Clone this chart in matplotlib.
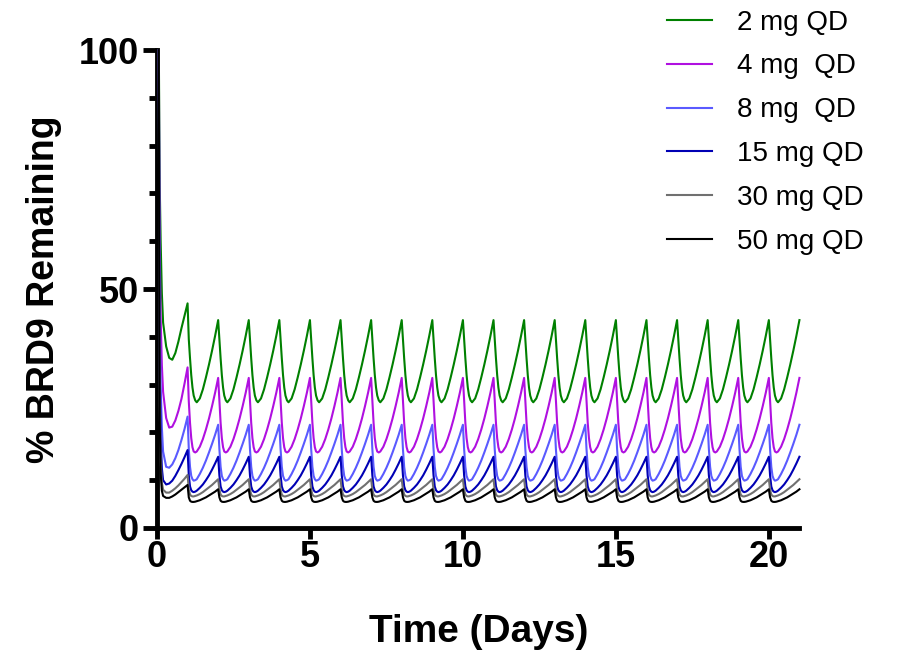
import matplotlib
matplotlib.use('Agg')
import numpy as np
from matplotlib import pyplot as plt
from matplotlib.ticker import MultipleLocator

plt.rcParams['font.family'] = ['Liberation Sans', 'DejaVu Sans']

# doses and legend labels
labels = ['2 mg QD', '4 mg  QD', '8 mg  QD', '15 mg QD', '30 mg QD', '50 mg QD']
colors = ['#008000', '#B010E0', '#5A5AFF', '#0000B4', '#707070', '#000000']

# first day after the first dose (time in days)
day0_t = [0.06, 0.075, 0.09, 0.12, 0.16, 0.2, 0.3, 0.4, 0.5, 0.6, 0.7, 0.8, 0.9, 1.0]
day0_2mg = [100, 85, 72, 60, 49, 43, 38, 35.6, 35.2, 36.6, 39, 41.8, 44.4, 47]
day0_4mg = [100, 75, 58, 44, 34, 28.5, 23, 21, 21.2, 22.5, 24.5, 27, 30.2, 33.6]
day0_8mg = [100, 65, 45, 30, 21, 16, 12.8, 12.6, 13.3, 14.6, 16.3, 18.4, 20.7, 23.3]
day0_15mg = [100, 55, 33, 19, 12.5, 10, 9.1, 9.3, 9.9, 10.9, 12.1, 13.4, 14.8, 16.3]
day0_30mg = [100, 48, 26, 14, 9.5, 8, 7.4, 7.4, 7.8, 8.3, 8.9, 9.6, 10.3, 11.1]
day0_50mg = [100, 42, 22, 11.5, 7.8, 6.7, 6.3, 6.3, 6.6, 7.0, 7.5, 8.0, 8.5, 9.0]

# one dosing interval at steady state (days 1-21)
cycle_t = [0, 0.04, 0.08, 0.12, 0.16, 0.2, 0.25, 0.3, 0.4, 0.5, 0.6, 0.7, 0.8, 0.9, 1.0]
cycle_2mg = [43.5, 39.5, 35.5, 32.0, 29.4, 27.7, 26.7, 26.3, 27.1, 29.0, 31.5, 34.2, 37.1, 40.2, 43.5]
cycle_4mg = [31.4, 26.5, 22.0, 18.8, 16.9, 16.0, 15.8, 16.0, 17.0, 18.6, 20.6, 22.9, 25.5, 28.3, 31.4]
cycle_8mg = [21.6, 16.5, 12.8, 10.9, 10.2, 9.9, 10.0, 10.2, 11.3, 12.6, 14.1, 15.8, 17.6, 19.5, 21.6]
cycle_15mg = [14.9, 11.0, 8.7, 7.9, 7.6, 7.5, 7.6, 7.8, 8.4, 9.1, 10.0, 11.0, 12.2, 13.5, 14.9]
cycle_30mg = [10.2, 8.0, 7.0, 6.7, 6.6, 6.6, 6.7, 6.8, 7.1, 7.5, 8.0, 8.5, 9.0, 9.6, 10.2]
cycle_50mg = [8.1, 6.4, 5.7, 5.5, 5.45, 5.45, 5.5, 5.6, 5.8, 6.1, 6.4, 6.8, 7.2, 7.6, 8.1]

n_days = 21

day0_all = [day0_2mg, day0_4mg, day0_8mg, day0_15mg, day0_30mg, day0_50mg]
cycle_all = [cycle_2mg, cycle_4mg, cycle_8mg, cycle_15mg, cycle_30mg, cycle_50mg]

fig = plt.figure(figsize=(9.1, 6.51), dpi=100)
ax = fig.add_axes([0.1725, 0.189, 0.706, 0.734])

for d0, cyc, lab, col in zip(day0_all, cycle_all, labels, colors):
    t = list(day0_t)
    y = list(d0)
    for k in range(1, n_days):
        t += [k + s for s in cycle_t[1:]]
        y += cyc[1:]
    ax.plot(t, y, color=col, lw=1.5, label=lab, zorder=3, clip_on=False)

ax.set_xlim(0, 21)
ax.set_ylim(0, 100)
ax.spines['top'].set_visible(False)
ax.spines['right'].set_visible(False)
for s in ['left', 'bottom']:
    ax.spines[s].set_linewidth(3.5)
    ax.spines[s].set_capstyle('projecting')

ax.xaxis.set_major_locator(MultipleLocator(5))
ax.yaxis.set_major_locator(MultipleLocator(50))
ax.yaxis.set_minor_locator(MultipleLocator(10))
ax.tick_params(axis='both', which='major', width=3.5, length=10, labelsize=26, pad=3)
ax.tick_params(axis='x', which='major', length=8, pad=1)
ax.tick_params(axis='y', which='minor', width=3.5, length=6)
for lbl in ax.get_xticklabels() + ax.get_yticklabels():
    lbl.set_fontweight('bold')

ax.set_xlabel('Time (Days)', fontsize=28, fontweight='bold', labelpad=28)
ax.set_ylabel('% BRD9 Remaining', fontsize=27, fontweight='bold', labelpad=12)

fig.legend(loc='upper left', bbox_to_anchor=(0.712, 1.015), frameon=False, fontsize=20,
           handlelength=1.6, handletextpad=0.9, labelspacing=0.64, borderpad=0.2)

fig.savefig('out.png', dpi=100)
